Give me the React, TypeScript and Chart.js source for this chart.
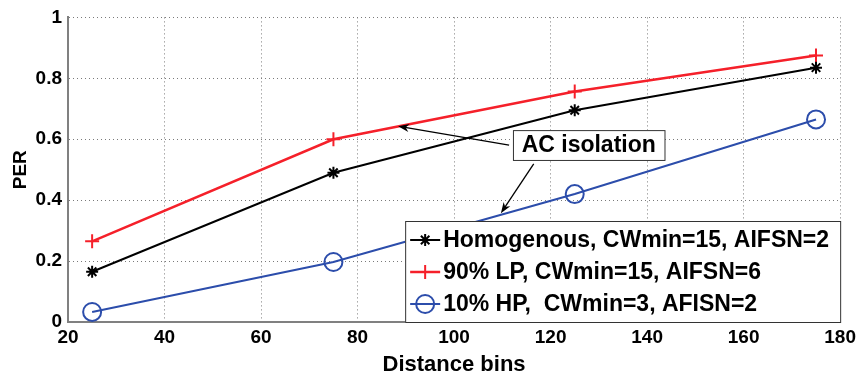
import React, { useEffect, useRef } from "react";
import { Chart, registerables } from "chart.js";

Chart.register(...registerables);

const distances = [25, 75, 125, 175];
const homogenous = [0.165, 0.49, 0.695, 0.835];
const lp90 = [0.265, 0.6, 0.757, 0.875];
const hp10 = [0.033, 0.197, 0.42, 0.665];

const seriesLabels = [
  "Homogenous, CWmin=15, AIFSN=2",
  "90% LP, CWmin=15, AIFSN=6",
  "10% HP,  CWmin=3, AFISN=2",
];
const annotationText = "AC isolation";
// arrows in data coordinates: [tailX, tailY, tipX, tipY]
const arrow1 = [111.4, 0.581, 88.4, 0.643];
const arrow2 = [116.5, 0.519, 109.7, 0.357];
// annotation box corners in data coordinates: [x1, y1, x2, y2]
const annoBox = [112.2, 0.63, 143.6, 0.532];

const BLACK = "#000000";
const RED = "#f5202a";
const BLUE = "#2c4dab";
const FONT = "'Liberation Sans', Arial, sans-serif";

function drawMarker(ctx: CanvasRenderingContext2D, style: string, x: number, y: number, r: number, color: string, lw: number) {
  ctx.save();
  ctx.strokeStyle = color;
  ctx.lineWidth = lw;
  ctx.beginPath();
  if (style === "circle") {
    ctx.arc(x, y, r, 0, Math.PI * 2);
  } else if (style === "cross") {
    ctx.moveTo(x - r, y); ctx.lineTo(x + r, y);
    ctx.moveTo(x, y - r); ctx.lineTo(x, y + r);
  } else if (style === "star") {
    ctx.moveTo(x - r, y); ctx.lineTo(x + r, y);
    ctx.moveTo(x, y - r); ctx.lineTo(x, y + r);
    const d = r * 0.707;
    ctx.moveTo(x - d, y - d); ctx.lineTo(x + d, y + d);
    ctx.moveTo(x - d, y + d); ctx.lineTo(x + d, y - d);
  }
  ctx.stroke();
  ctx.restore();
}

function drawArrow(ctx: CanvasRenderingContext2D, x1: number, y1: number, x2: number, y2: number) {
  const ang = Math.atan2(y2 - y1, x2 - x1);
  const len = 11;
  const wid = 4;
  ctx.save();
  ctx.strokeStyle = "#000";
  ctx.fillStyle = "#000";
  ctx.lineWidth = 1.3;
  ctx.beginPath();
  ctx.moveTo(x1, y1);
  ctx.lineTo(x2 - Math.cos(ang) * len * 0.5, y2 - Math.sin(ang) * len * 0.5);
  ctx.stroke();
  ctx.beginPath();
  ctx.moveTo(x2, y2);
  ctx.lineTo(x2 - Math.cos(ang) * len + Math.sin(ang) * wid, y2 - Math.sin(ang) * len - Math.cos(ang) * wid);
  ctx.lineTo(x2 - Math.cos(ang) * len * 0.7, y2 - Math.sin(ang) * len * 0.7);
  ctx.lineTo(x2 - Math.cos(ang) * len - Math.sin(ang) * wid, y2 - Math.sin(ang) * len + Math.cos(ang) * wid);
  ctx.closePath();
  ctx.fill();
  ctx.restore();
}

const overlayPlugin = {
  id: "overlay",
  afterDraw(chart: any) {
    const ctx: CanvasRenderingContext2D = chart.ctx;
    const xs = chart.scales.x;
    const ys = chart.scales.y;
    const area = chart.chartArea;

    const bx1 = xs.getPixelForValue(annoBox[0]);
    const by1 = ys.getPixelForValue(annoBox[1]);
    const bx2 = xs.getPixelForValue(annoBox[2]);
    const by2 = ys.getPixelForValue(annoBox[3]);
    drawArrow(ctx, xs.getPixelForValue(arrow1[0]), ys.getPixelForValue(arrow1[1]), xs.getPixelForValue(arrow1[2]), ys.getPixelForValue(arrow1[3]));
    drawArrow(ctx, xs.getPixelForValue(arrow2[0]), ys.getPixelForValue(arrow2[1]), xs.getPixelForValue(arrow2[2]), ys.getPixelForValue(arrow2[3]));
    ctx.save();
    ctx.fillStyle = "#fff";
    ctx.fillRect(bx1, by1, bx2 - bx1, by2 - by1);
    ctx.strokeStyle = "#333";
    ctx.lineWidth = 1;
    ctx.strokeRect(bx1 + 0.5, by1 + 0.5, bx2 - bx1, by2 - by1);
    ctx.fillStyle = "#000";
    ctx.font = `bold 23px ${FONT}`;
    ctx.textAlign = "center";
    ctx.textBaseline = "middle";
    ctx.fillText(annotationText, (bx1 + bx2) / 2, (by1 + by2) / 2 + 1);
    ctx.restore();

    const lw = 436;
    const lh = 102;
    const lx = area.right + 1 - lw;
    const ly = area.bottom + 1 - lh;
    ctx.save();
    ctx.fillStyle = "#fff";
    ctx.fillRect(lx, ly, lw, lh);
    ctx.strokeStyle = "#333";
    ctx.lineWidth = 1;
    ctx.strokeRect(lx + 0.5, ly + 0.5, lw - 1, lh - 1);
    const rows = [ly + 19, ly + 51, ly + 83];
    chart.data.datasets.forEach((ds: any, i: number) => {
      const y = rows[i];
      ctx.strokeStyle = ds.borderColor;
      ctx.lineWidth = ds.borderWidth;
      ctx.beginPath();
      ctx.moveTo(lx + 5, y);
      ctx.lineTo(lx + 35, y);
      ctx.stroke();
      drawMarker(ctx, ds.pointStyle, lx + 20, y, ds.pointRadius, ds.borderColor, ds.pointBorderWidth);
      ctx.fillStyle = "#000";
      ctx.font = `bold 23px ${FONT}`;
      ctx.textAlign = "left";
      ctx.textBaseline = "middle";
      ctx.fillText(ds.label, lx + 38, y + 1);
    });
    ctx.restore();
  },
};

export default function App() {
  const ref = useRef<HTMLCanvasElement>(null);
  useEffect(() => {
    document.body.style.margin = "0";
    Chart.defaults.font.family = FONT;
    const mk = (label: string, data: number[], color: string, style: string, r: number, w: number) => ({
      label,
      data: distances.map((d, i) => ({ x: d, y: data[i] })),
      borderColor: color,
      backgroundColor: "transparent",
      borderWidth: w,
      pointStyle: style,
      pointRadius: r,
      pointBorderWidth: 2,
      pointBorderColor: color,
      pointBackgroundColor: "transparent",
      tension: 0,
    });
    const chart = new Chart(ref.current!, {
      type: "line",
      data: {
        datasets: [
          mk(seriesLabels[0], homogenous, BLACK, "star", 6, 2),
          mk(seriesLabels[1], lp90, RED, "cross", 7, 2.5),
          mk(seriesLabels[2], hp10, BLUE, "circle", 9, 2),
        ],
      },
      options: {
        animation: false,
        responsive: false,
        layout: { padding: { top: 14, right: 18, left: 0, bottom: 0 } },
        plugins: { legend: { display: false }, tooltip: { enabled: false } },
        scales: {
          x: {
            type: "linear",
            min: 20,
            max: 180,
            afterFit: (s: any) => { s.height = 57; },
            ticks: {
              stepSize: 20,
              color: "#000",
              padding: 4,
              font: { size: 19, weight: "bold" },
            },
            grid: { color: "#7a7a7a", lineWidth: 1, drawTicks: false },
            border: { display: true, color: "#808080", width: 2, dash: [1, 3] },
            title: {
              display: true,
              text: "Distance bins",
              color: "#000",
              font: { size: 22, weight: "bold" },
              padding: { top: 0, bottom: 1 },
            },
          },
          y: {
            min: 0,
            max: 1,
            afterFit: (s: any) => { s.width = 68; },
            ticks: {
              stepSize: 0.2,
              color: "#000",
              padding: 6,
              font: { size: 19, weight: "bold" },
              callback: (v: any) => (v === 0 ? "0" : v === 1 ? "1" : Number(v).toFixed(1)),
            },
            grid: { color: "#7a7a7a", lineWidth: 1, drawTicks: false },
            border: { display: true, color: "#808080", width: 2, dash: [1, 3] },
            title: {
              display: true,
              text: "PER",
              color: "#000",
              font: { size: 19, weight: "bold" },
              padding: { top: 9, bottom: 0 },
            },
          },
        },
      },
      plugins: [overlayPlugin],
    } as any);
    return () => chart.destroy();
  }, []);
  return <canvas ref={ref} width={860} height={379} style={{ display: "block" }} />;
}
